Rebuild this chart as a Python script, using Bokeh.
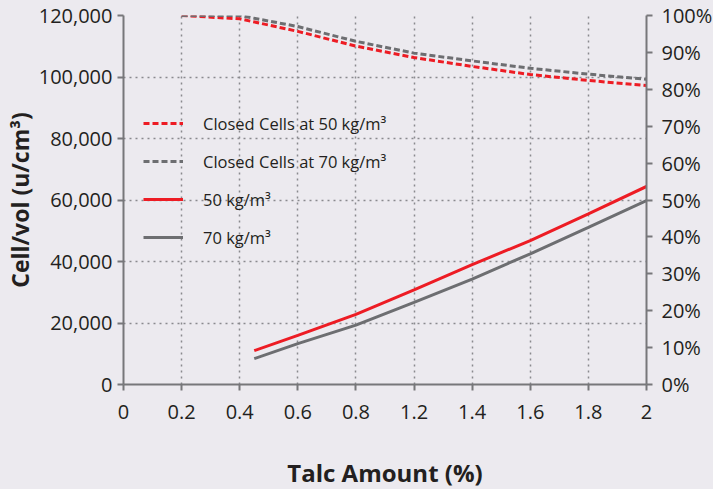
from bokeh.plotting import figure
from bokeh.models import (Range1d, LinearAxis, FixedTicker, NumeralTickFormatter,
                          PrintfTickFormatter, Legend, LegendItem)
from bokeh.embed import file_html
from bokeh.resources import INLINE

# ---- data ----
x_labels = ["0", "0.2", "0.4", "0.6", "0.8", "1.2", "1.4", "1.6", "1.8", "2"]
# positions along the (evenly spaced) category axis
x_solid = [2.25, 3, 4, 5, 6, 7, 8, 9]
cells_50 = [11000, 16000, 22800, 30800, 39000, 46800, 55500, 64400]
cells_70 = [8400, 13300, 19300, 26700, 34300, 42500, 51100, 59800]
x_closed = [1, 2, 3, 4, 5, 6, 7, 8, 9]
closed_50 = [100, 99.1, 95.7, 91.7, 88.6, 86.2, 84.0, 82.4, 81.0]
closed_70 = [100, 100, 97.0, 93.0, 89.8, 87.7, 85.7, 84.1, 82.7]
y_ticks = [0, 20000, 40000, 60000, 80000, 100000, 120000]
pct_ticks = list(range(0, 101, 10))

BG = "#ECEAEF"
RED = "#ED1C24"
GRAY = "#6D6E71"
AX = "#77777A"
TXT = "#231F20"
FONT = "Open Sans"

p = figure(frame_width=523, frame_height=369, output_backend="svg",
           toolbar_location=None,
           x_range=Range1d(0, 9), y_range=Range1d(0, 120000),
           min_border_left=123, min_border_right=67, min_border_top=15,
           min_border_bottom=105)
p.background_fill_color = BG
p.border_fill_color = BG
p.outline_line_color = None

p.extra_y_ranges = {"pct": Range1d(0, 100)}

r_c50 = p.line(x_closed, closed_50, y_range_name="pct", line_color=RED,
               line_width=3, line_dash="6 3")
r_c70 = p.line(x_closed, closed_70, y_range_name="pct", line_color=GRAY,
               line_width=3, line_dash="6 3")
r_50 = p.line(x_solid, cells_50, line_color=RED, line_width=3)
r_70 = p.line(x_solid, cells_70, line_color=GRAY, line_width=3)

# axes
xa = p.xaxis[0]
xa.ticker = FixedTicker(ticks=list(range(len(x_labels))))
xa.major_label_overrides = {i: s for i, s in enumerate(x_labels)}
xa.axis_label = "Talc Amount (%)"
ya = p.yaxis[0]
ya.ticker = FixedTicker(ticks=y_ticks)
ya.formatter = NumeralTickFormatter(format="0,0")
ya.axis_label = "Cell/vol (u/cm³)"

ra = LinearAxis(y_range_name="pct", ticker=FixedTicker(ticks=pct_ticks),
                formatter=PrintfTickFormatter(format="%d%%"))
p.add_layout(ra, "right")

for ax in (xa, ya, ra):
    ax.axis_line_color = AX
    ax.axis_line_width = 2
    ax.major_tick_line_color = AX
    ax.major_tick_line_width = 2
    ax.major_tick_out = 6
    ax.major_tick_in = 0
    ax.minor_tick_line_color = None
    ax.major_label_text_font = FONT
    ax.major_label_text_font_size = "20px"
    ax.major_label_text_color = TXT
    ax.axis_label_text_font = FONT
    ax.axis_label_text_font_style = "bold"
    ax.axis_label_text_font_size = "23px"
    ax.axis_label_text_color = TXT
xa.major_label_standoff = 14
xa.axis_label_standoff = 34
xa.axis_label_text_font_size = "24px"
ya.major_label_standoff = 5
ya.axis_label_standoff = 0
ra.major_label_standoff = 9

for g in (p.xgrid[0], p.ygrid[0]):
    g.grid_line_color = "#8A8A8E"
    g.grid_line_dash = "2 4"
    g.grid_line_width = 1.5
p.xgrid[0].ticker = FixedTicker(ticks=list(range(1, len(x_labels))))
p.ygrid[0].ticker = FixedTicker(ticks=y_ticks[1:])

legend = Legend(items=[
    LegendItem(label="Closed Cells at 50 kg/m³", renderers=[r_c50]),
    LegendItem(label="Closed Cells at 70 kg/m³", renderers=[r_c70]),
    LegendItem(label="50 kg/m³", renderers=[r_50]),
    LegendItem(label="70 kg/m³", renderers=[r_70]),
], location=(20, 135))
legend.background_fill_alpha = 0
legend.border_line_color = None
legend.padding = 0
legend.margin = 0
legend.spacing = 14
legend.glyph_width = 40
legend.glyph_height = 24
legend.label_height = 24
legend.label_standoff = 20
legend.label_text_font = FONT
legend.label_text_font_size = "16.5px"
legend.label_text_color = TXT
legend.label_text_baseline = "middle"
p.add_layout(legend, "center")

html = file_html(p, INLINE)
html = html.replace("<head>", "<head><style>body{background:%s;overflow:hidden;}</style>" % BG, 1)
open("out.html", "w").write(html)
